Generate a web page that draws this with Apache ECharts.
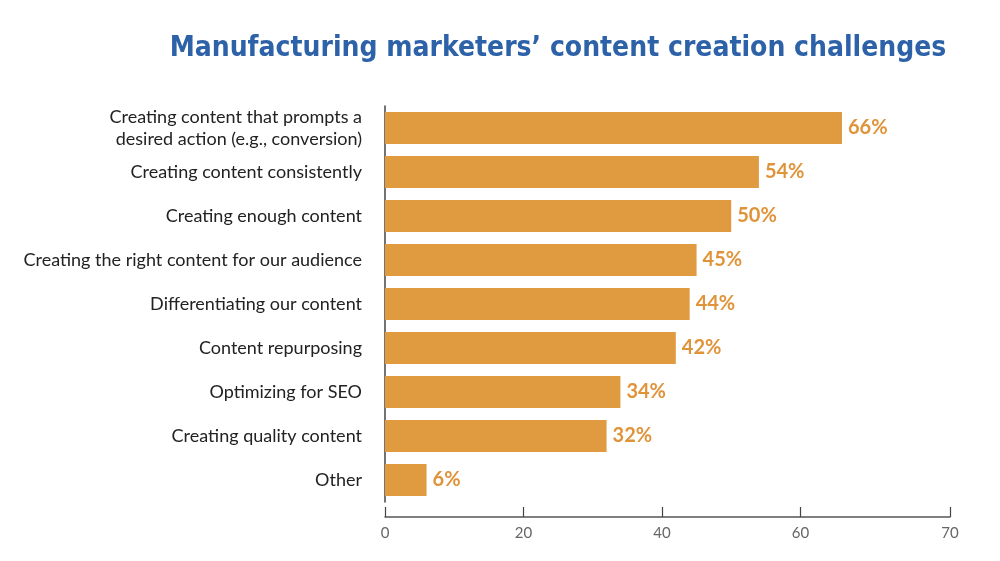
<!DOCTYPE html>
<html>
<head>
    <meta charset="utf-8">
    <title>ECharts</title>
    <script src="https://cdn.jsdelivr.net/npm/echarts@6/dist/echarts.min.js"></script>
    <style>
        html, body { margin: 0; padding: 0; background: #fff; }
        #main { width: 1000px; height: 561px; }
    </style>
</head>
<body>
<div id="main"></div>
<script type="text/javascript">
    // 数据
    var categories = [
        'Creating content that prompts a\ndesired action (e.g., conversion)',
        'Creating content consistently',
        'Creating enough content',
        'Creating the right content for our audience',
        'Differentiating our content',
        'Content repurposing',
        'Optimizing for SEO',
        'Creating quality content',
        'Other'
    ];
    var values = [66, 54, 50, 45, 44, 42, 34, 32, 6];
    // tick positions as drawn on the original axis, and the text printed under them
    var tickValues = [0, 20, 40, 60, 81.6];
    var tickLabels = ['0', '20', '40', '60', '70'];

    var myChart = echarts.init(document.getElementById('main'));

    var option = {
        title: {
            text: 'Manufacturing marketers’ content creation challenges',
            left: 553,
            textAlign: 'center',
            top: 30,
            textStyle: {
                color: '#2e62a8',
                fontFamily: 'DejaVu Sans Condensed',
                fontWeight: 'bold',
                fontSize: 28
            }
        },
        grid: {
            left: 385,
            right: 50,
            top: 106,
            bottom: 59
        },
        xAxis: {
            type: 'value',
            min: 0,
            max: 81.6,
            offset: 15,
            splitLine: { show: false },
            axisLine: { show: true, lineStyle: { color: '#555', width: 1.5 } },
            axisTick: {
                show: true,
                inside: true,
                length: 10,
                customValues: tickValues,
                lineStyle: { color: '#444', width: 1.2 }
            },
            axisLabel: {
                customValues: tickValues,
                margin: 9,
                color: '#666',
                fontFamily: 'Lato',
                fontSize: 15,
                formatter: function (v) {
                    var i = tickValues.indexOf(v);
                    return i >= 0 ? tickLabels[i] : '';
                }
            }
        },
        yAxis: {
            type: 'category',
            data: categories,
            inverse: true,
            axisLine: { show: true, lineStyle: { color: '#444', width: 1.5 } },
            axisTick: { show: false },
            axisLabel: {
                margin: 23,
                color: '#222',
                fontFamily: 'Lato',
                fontSize: 18,
                lineHeight: 22
            }
        },
        series: [
            {
                type: 'bar',
                data: values,
                barWidth: 32,
                itemStyle: { color: '#e09a3f' },
                label: {
                    show: true,
                    position: 'right',
                    distance: 6,
                    formatter: '{c}%',
                    color: '#e0943a',
                    fontFamily: 'Lato',
                    fontWeight: 'bold',
                    fontSize: 20
                }
            }
        ]
    };

    myChart.setOption(option);
</script>
</body>
</html>
